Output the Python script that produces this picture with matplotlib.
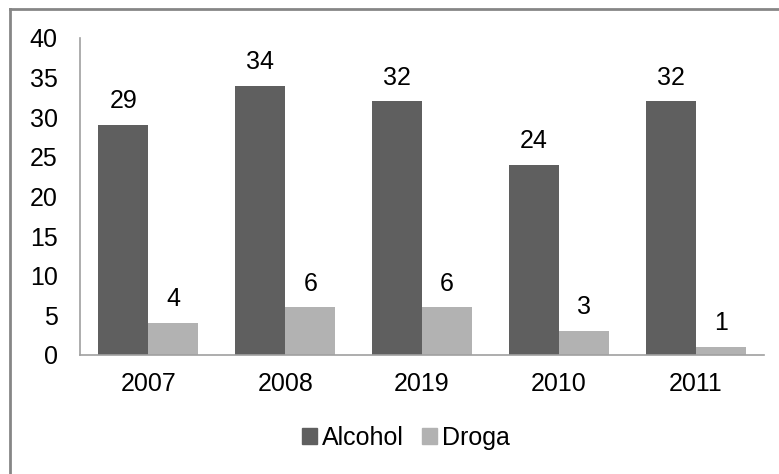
import matplotlib
matplotlib.use("Agg")
import matplotlib.pyplot as plt
from matplotlib.lines import Line2D
from matplotlib.patches import Patch
import numpy as np

categories = ["2007", "2008", "2019", "2010", "2011"]
alcohol = [29, 34, 32, 24, 32]
droga = [4, 6, 6, 3, 1]
yticks = [0, 5, 10, 15, 20, 25, 30, 35, 40]

plt.rcParams['font.family'] = ['Liberation Sans', 'DejaVu Sans']
FS = 18

fig = plt.figure(figsize=(7.79, 4.74), dpi=100)
ax = fig.add_axes([80/779, 1-355/474, 684/779, 317/474])

x = np.arange(len(categories))
w = 50/136.75
c1, c2 = "#5f5f5f", "#b2b2b2"
b1 = ax.bar(x - w/2, alcohol, w, color=c1, label="Alcohol")
b2 = ax.bar(x + w/2, droga, w, color=c2, label="Droga")
for bars, vals in ((b1, alcohol), (b2, droga)):
    for r, v in zip(bars, vals):
        ax.annotate(str(v), (r.get_x() + r.get_width()/2, r.get_height()),
                    xytext=(0, 8.5), textcoords="offset points",
                    ha="center", va="bottom", fontsize=FS, color="black")

ax.set_xlim(-0.5, len(categories) - 0.5)
ax.set_ylim(0, 40)
ax.set_yticks(yticks)
ax.set_yticklabels([str(t) for t in yticks], fontsize=FS)
ax.set_xticks(x)
ax.set_xticklabels(categories, fontsize=FS)
ax.tick_params(axis="both", length=0)
ax.tick_params(axis="y", pad=16)
ax.tick_params(axis="x", pad=12)
for s in ("top", "right"):
    ax.spines[s].set_visible(False)
for s in ("left", "bottom"):
    ax.spines[s].set_color("#a0a0a0")
    ax.spines[s].set_linewidth(1.2)

handles = [Patch(color=c1), Patch(color=c2)]
fig.legend(handles, ["Alcohol", "Droga"], loc="center", bbox_to_anchor=(406/779, 1-438/474),
           ncol=2, frameon=False, fontsize=FS, handlelength=0.6, handleheight=0.6,
           handletextpad=0.2, columnspacing=0.75)

# figure border (top and left visible)
fig.add_artist(Line2D([10/779, 1], [1-9/474, 1-9/474], color="#868686", lw=2, transform=fig.transFigure))
fig.add_artist(Line2D([10/779, 10/779], [0, 1-9/474], color="#868686", lw=2, transform=fig.transFigure))

fig.savefig("out.png", dpi=100)
